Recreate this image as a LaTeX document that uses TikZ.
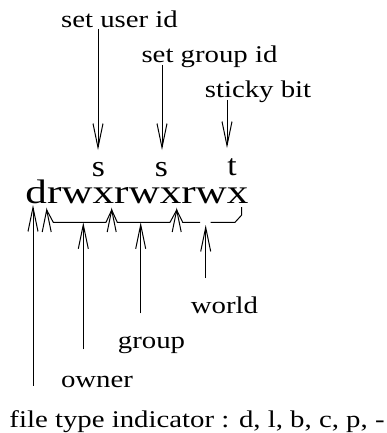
\documentclass[tikz,border=0pt]{standalone}
\usepackage{fontspec}
\setmainfont{Liberation Serif}
\usepackage{graphicx}
\usetikzlibrary{arrows.meta}
\newcommand{\widetext}[2]{\scalebox{#1}[1]{#2}}
\begin{document}
\begin{tikzpicture}[x=1pt,y=-1pt,
  lbl/.style={font=\fontsize{24}{28}\selectfont,inner sep=0pt,anchor=base},
  bit/.style={font=\fontsize{30}{34}\selectfont,inner sep=0pt,anchor=base},
  perm/.style={font=\fontsize{34}{40}\selectfont,inner sep=0pt,anchor=base},
  conn/.style={line width=1pt,-{Straight Barb[length=24pt,width=10pt]}},
  brk/.style={line width=1pt,line join=miter,line cap=butt}]
\useasboundingbox (0,0) rectangle (387,433);

% labels on top
\node[lbl] (suid) at (119.5,28) {\widetext{1.2}{set user id}};
\node[lbl] (sgid) at (209.5,63) {\widetext{1.2}{set group id}};
\node[lbl] (sticky) at (258,98) {\widetext{1.2}{sticky bit}};

% special bits
\node[bit] (s1) at (98.5,176) {\widetext{1.12}{s}};
\node[bit] (s2) at (161.5,176) {\widetext{1.12}{s}};
\node[bit] (t) at (232,175.5) {\widetext{1.12}{t}};

% permission string
\node[perm] (perm) at (137,203) {\widetext{1.27}{drwxrwxrwx}};

% labels below
\node[lbl] (world) at (224.5,313) {\widetext{1.2}{world}};
\node[lbl] (group) at (151.5,348) {\widetext{1.2}{group}};
\node[lbl] (owner) at (97,387) {\widetext{1.2}{owner}};
\node[lbl] (ftype) at (197,427) {\widetext{1.2}{file type indicator : d, l, b, c, p, -}};

% target points
\coordinate (ts1) at (98,150);
\coordinate (ts2) at (162,150);
\coordinate (tt) at (227,148);
\coordinate (td) at (33,205);
\coordinate (town) at (83.3,222.3);
\coordinate (tgrp) at (140.7,222.3);
\coordinate (twld) at (205.7,225);

% down arrows
\draw[conn] (suid.base -| ts1) ++(0,1) -- (ts1);
\draw[conn] (sgid.base -| ts2) ++(0,2) -- (ts2);
\draw[conn] (sticky.base -| tt) ++(0,2) -- (tt);

% up arrows
\draw[conn] ([yshift=24pt]ftype.north -| td) -- (td);
\draw[conn] ([yshift=26pt]owner.north -| town) -- (town);
\draw[conn] ([yshift=22pt]group.north -| tgrp) -- (tgrp);
\draw[conn] ([yshift=18pt]world.north -| twld) -- (twld);

% brackets
\draw[brk] (46.7,210) -- (53.3,222.3) -- (106,222.3) -- (111.7,210)
  -- (117.3,222.3) -- (170,222.3) -- (176.7,210) -- (182.7,222.3) -- (200,222.3);
\draw[brk] (210.7,222.3) -- (235,222.3) -- (241.7,215) -- (241.7,207);
\foreach \bx in {46.7,111.7,176.7}
  \draw[brk] (\bx-4.5,232) -- (\bx,210) -- (\bx+4.5,232);
\end{tikzpicture}
\end{document}
